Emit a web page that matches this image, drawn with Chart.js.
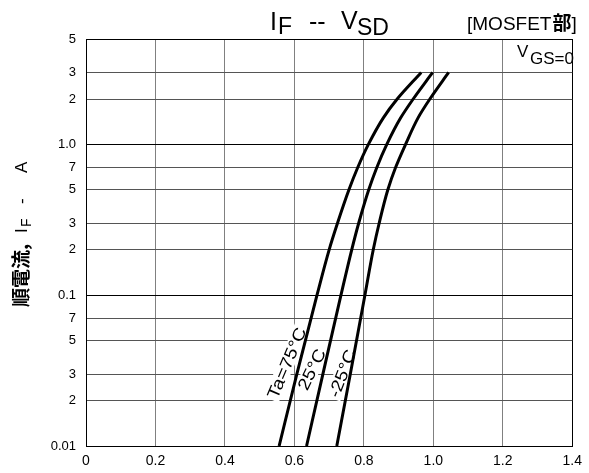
<!DOCTYPE html>
<html><head><meta charset="utf-8">
<script src="https://cdn.jsdelivr.net/npm/chart.js@4"></script>
<style>html,body{margin:0;padding:0;background:#fff;overflow:hidden}#wrap{width:589px;height:473px;position:relative}</style>
</head><body><div id="wrap"><canvas id="c" width="589" height="473"></canvas></div>
<script>
// ---- data ----
const currentA = [0.01, 0.03, 0.1, 0.2, 0.3, 0.5, 0.7, 1, 1.5, 2, 3];
const vsdTa75 = [0.556, 0.607, 0.665, 0.700, 0.724, 0.757, 0.782, 0.813, 0.856, 0.896, 0.965];
const vsdTa25 = [0.635, 0.682, 0.734, 0.765, 0.785, 0.814, 0.837, 0.866, 0.906, 0.942, 0.998];
const vsdTaM25 = [0.722, 0.761, 0.803, 0.827, 0.844, 0.869, 0.891, 0.920, 0.956, 0.990, 1.044];
const seriesLabels = ['Ta=75°C', '25°C', '-25°C'];
const xTickValues = [0, 0.2, 0.4, 0.6, 0.8, 1.0, 1.2, 1.4];
const xTickLabels = ['0', '0.2', '0.4', '0.6', '0.8', '1.0', '1.2', '1.4'];
const yTickValues = [0.01, 0.02, 0.03, 0.05, 0.07, 0.1, 0.2, 0.3, 0.5, 0.7, 1, 2, 3, 5];
const yTickLabels = ['0.01', '2', '3', '5', '7', '0.1', '2', '3', '5', '7', '1.0', '2', '3', '5'];

const FONT = "'Liberation Sans', Arial, sans-serif";
const CJK = "'Noto Sans CJK JP', sans-serif";

// label placement (style)
const labelStyle = [
  {x: 0.578, y: 0.0355, a: -67},
  {x: 0.650, y: 0.0322, a: -64},
  {x: 0.738, y: 0.0303, a: -69}
];

function labelBox(c, text) {
  c.font = '17px ' + FONT;
  return c.measureText(text).width;
}

const annot = {
  id: 'annot',
  beforeDatasetsDraw(chart) {
    const c = chart.ctx, xs = chart.scales.x, ys = chart.scales.y;
    c.save();
    c.fillStyle = '#fff';
    seriesLabels.forEach((t, i) => {
      const s = labelStyle[i];
      const w = labelBox(c, t) * 1.15;
      c.save();
      c.translate(xs.getPixelForValue(s.x), ys.getPixelForValue(s.y));
      c.rotate(s.a * Math.PI / 180);
      c.fillRect(-w / 2 - 2, -8, w + 4, 16);
      c.restore();
    });
    c.restore();
  },
  afterDraw(chart) {
    const c = chart.ctx, xs = chart.scales.x, ys = chart.scales.y;
    c.save();
    c.fillStyle = '#000';
    c.textAlign = 'left';
    c.textBaseline = 'alphabetic';
    // title I_F -- V_SD
    c.font = '25px ' + FONT; c.fillText('I', 270, 30);
    c.font = '23px ' + FONT; c.fillText('F', 278, 34);
    c.font = '25px ' + FONT; c.fillText('--', 309, 30);
    c.fillText('V', 341, 29);
    c.font = '23px ' + FONT; c.fillText('SD', 357, 35);
    // [MOSFET部]
    let x = 467;
    c.font = '19px ' + FONT; c.fillText('[MOSFET', x, 30); x += c.measureText('[MOSFET').width + 1;
    c.font = 'bold 19px ' + CJK; c.fillText('部', x, 30); x += c.measureText('部').width;
    c.font = '19px ' + FONT; c.fillText(']', x, 30);
    // V_GS=0
    c.font = '17px ' + FONT; c.fillText('V', 517, 57);
    c.fillText('GS=0', 530, 64);
    // curve labels
    seriesLabels.forEach((t, i) => {
      const s = labelStyle[i];
      c.save();
      c.translate(xs.getPixelForValue(s.x), ys.getPixelForValue(s.y));
      c.rotate(s.a * Math.PI / 180);
      c.scale(1.15, 1);
      c.font = '17px ' + FONT;
      c.textAlign = 'center';
      c.textBaseline = 'middle';
      c.fillText(t, 0, 1);
      c.restore();
    });
    // y axis title
    c.save();
    c.translate(27, 307);
    c.rotate(-Math.PI / 2);
    c.textAlign = 'left';
    c.font = 'bold 19px ' + CJK; c.fillText('順電流', 0, 1);
    c.fillText(',', 57, 1);
    c.font = '17px ' + FONT; c.fillText('I', 74, 0);
    c.font = '14px ' + FONT; c.fillText('F', 80, 4);
    c.font = '17px ' + FONT; c.fillText('-', 103, 0);
    c.fillText('A', 134, 0);
    c.restore();
    c.restore();
  }
};

const toPts = arr => arr.map((v, i) => ({x: v, y: currentA[i]}));

new Chart(document.getElementById('c').getContext('2d'), {
  type: 'line',
  data: {
    datasets: [vsdTa75, vsdTa25, vsdTaM25].map((a, i) => ({
      label: seriesLabels[i],
      data: toPts(a),
      borderColor: '#000',
      borderWidth: 3,
      pointRadius: 0,
      fill: false,
      indexAxis: 'y',
      cubicInterpolationMode: 'monotone',
      borderCapStyle: 'butt'
    }))
  },
  options: {
    responsive: false,
    animation: false,
    devicePixelRatio: 1,
    indexAxis: 'y',
    layout: {padding: {top: 39, right: 11, left: 0, bottom: 0}},
    plugins: {legend: {display: false}, tooltip: {enabled: false}, title: {display: false}},
    scales: {
      x: {
        type: 'linear', position: 'bottom', min: 0, max: 1.4,
        afterBuildTicks: s => { s.ticks = xTickValues.map(v => ({value: v})); },
        afterFit: s => { s.height = 27; },
        grid: {
          drawTicks: false, lineWidth: 1,
          color: ctx => (ctx.tick && ctx.tick.value >= 1.39) ? '#000' : '#808080'
        },
        border: {color: '#000', width: 1},
        ticks: {
          callback: (v, i) => xTickLabels[i],
          color: '#000', font: {family: FONT, size: 14}, padding: 7,
          maxRotation: 0, autoSkip: false
        }
      },
      y: {
        type: 'logarithmic', position: 'left', min: 0.01, max: 5,
        afterBuildTicks: s => { s.ticks = yTickValues.map(v => ({value: v})); },
        afterFit: s => { s.width = 86; },
        grid: {
          drawTicks: false, lineWidth: 1,
          color: ctx => {
            const v = ctx.tick ? ctx.tick.value : 0;
            return (v === 1 || v === 0.1 || v === 5) ? '#000' : '#555';
          }
        },
        border: {color: '#000', width: 1},
        ticks: {
          callback: (v, i) => yTickLabels[i],
          color: '#000', font: {family: FONT, size: 13}, padding: 10,
          autoSkip: false
        }
      }
    }
  },
  plugins: [annot]
});
</script>
</body></html>
